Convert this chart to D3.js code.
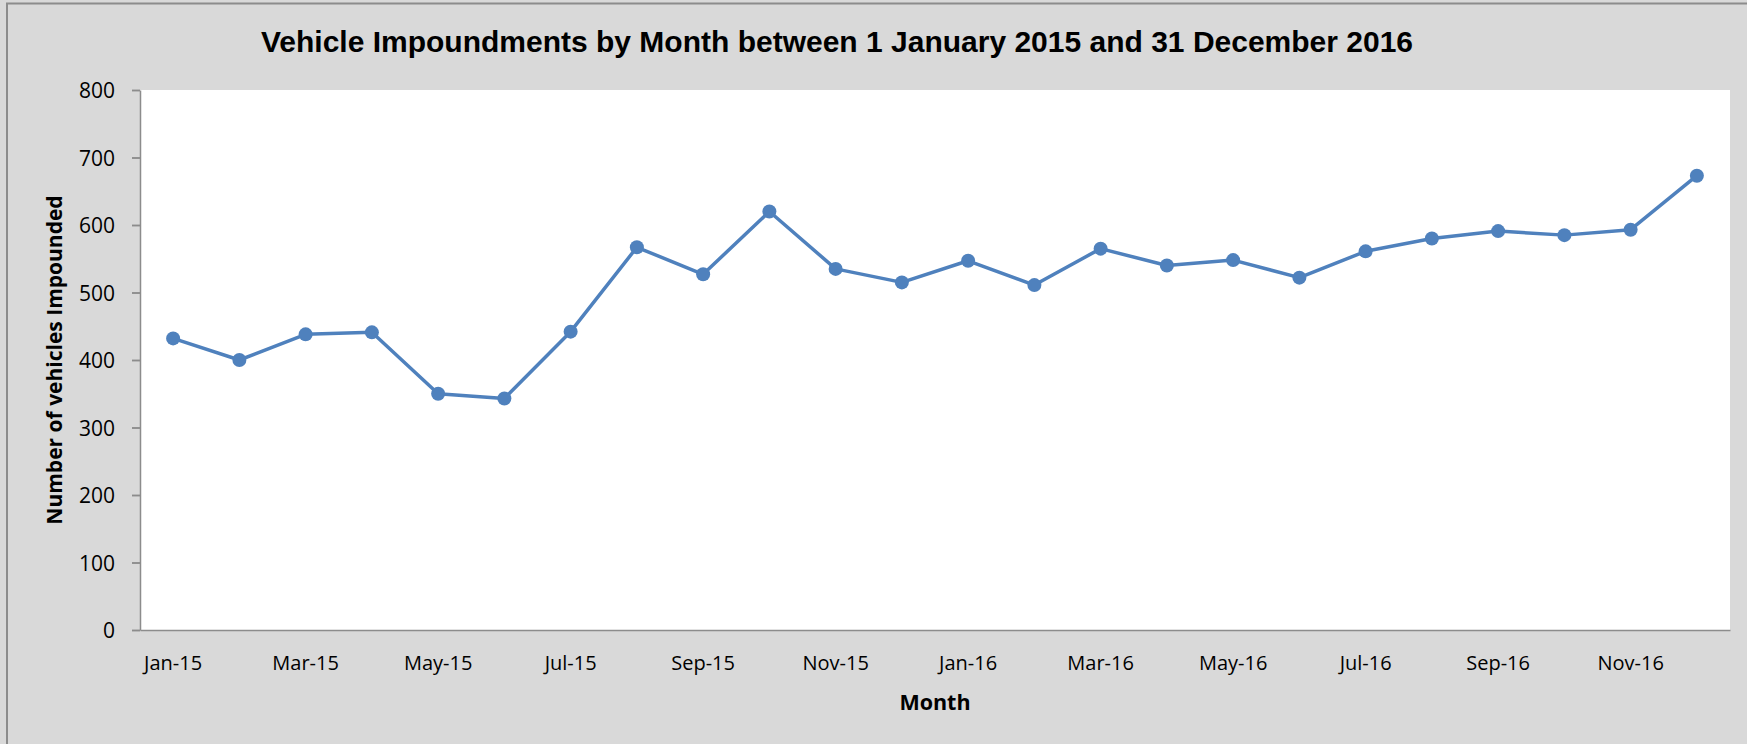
<!DOCTYPE html>
<html>
<head>
<meta charset="utf-8">
<script src="https://cdn.jsdelivr.net/npm/d3@7"></script>
<style>
  body { margin: 0; background: #d9d9d9; overflow: hidden; }
  svg { display: block; }
</style>
</head>
<body>
<script>
// data
var months = ["Jan-15","Feb-15","Mar-15","Apr-15","May-15","Jun-15","Jul-15","Aug-15","Sep-15","Oct-15","Nov-15","Dec-15",
              "Jan-16","Feb-16","Mar-16","Apr-16","May-16","Jun-16","Jul-16","Aug-16","Sep-16","Oct-16","Nov-16","Dec-16"];
var impounded = [432, 400, 438, 441, 350, 343, 442, 567, 527, 620, 535, 515,
                 547, 511, 565, 540, 548, 522, 561, 580, 591, 585, 593, 673];
var yTicks = [0, 100, 200, 300, 400, 500, 600, 700, 800];

var width = 1747, height = 744;
var margin = {top: 90, right: 17, bottom: 114, left: 140};

var svg = d3.select("body")
    .append("svg")
    .attr("width", width)
    .attr("height", height);

// chart area + outer border (right and bottom edges fall outside the picture)
svg.append("rect")
    .attr("x", 7).attr("y", 3.5)
    .attr("width", width + 20).attr("height", height + 20)
    .attr("fill", "#d9d9d9")
    .attr("stroke", "#8c8c8c")
    .attr("stroke-width", 2);

var xscale = d3.scaleBand()
    .domain(months)
    .range([margin.left, width - margin.right])
    .padding(0);

var yscale = d3.scaleLinear()
    .domain([0, 800])
    .range([height - margin.bottom, margin.top]);

// plot background
svg.append("rect")
    .attr("x", margin.left)
    .attr("y", margin.top)
    .attr("width", width - margin.right - margin.left)
    .attr("height", height - margin.bottom - margin.top)
    .attr("fill", "#fff");

// y-axis with gridlines
svg.append("g")
    .attr("transform", `translate(${margin.left},0)`)
    .call(d3.axisLeft(yscale).tickValues(yTicks).tickSizeOuter(0).tickPadding(0))
    .call(g => g.select(".domain").attr("stroke", "#8c8c8c").attr("stroke-width", 1.5))
    .call(g => g.selectAll(".tick line").clone()
        .attr("x2", width - margin.right - margin.left)
        .attr("stroke", "#8c8c8c")
        .attr("stroke-width", 1.5))
    .call(g => g.selectAll(".tick line").attr("x1", 0).attr("x2", -8).attr("stroke", "#8c8c8c").attr("stroke-width", 1.5))
    .call(g => g.selectAll(".tick text")
        .attr("x", -25)
        .attr("dy", "0.36em")
        .attr("font-family", "'Open Sans', sans-serif")
        .attr("font-size", 21)
        .attr("fill", "#000"));

// x-axis, label every second month
svg.append("g")
    .attr("transform", `translate(0,${height - margin.bottom})`)
    .call(d3.axisBottom(xscale)
        .tickValues(months.filter((d, i) => i % 2 == 0))
        .tickSize(0).tickSizeOuter(0).tickPadding(0))
    .call(g => g.select(".domain").attr("stroke", "#8c8c8c").attr("stroke-width", 1.5))
    .call(g => g.selectAll(".tick text")
        .attr("y", 40)
        .attr("dy", 0)
        .attr("font-family", "'Open Sans', sans-serif")
        .attr("font-size", 20)
        .attr("fill", "#000"));

var line = d3.line()
    .x(d => xscale(d.month) + xscale.bandwidth() / 2)
    .y(d => yscale(d.value));

var data = months.map((m, i) => ({month: m, value: impounded[i]}));

svg.append("path")
    .datum(data)
    .attr("fill", "none")
    .attr("stroke", "#4f81bd")
    .attr("stroke-width", 3.5)
    .attr("stroke-linejoin", "round")
    .attr("d", line);

svg.append("g")
    .selectAll("circle")
    .data(data)
    .join("circle")
    .attr("cx", d => xscale(d.month) + xscale.bandwidth() / 2)
    .attr("cy", d => yscale(d.value))
    .attr("r", 7)
    .attr("fill", "#4f81bd");

// titles
svg.append("text")
    .attr("x", 837)
    .attr("y", 52)
    .attr("text-anchor", "middle")
    .attr("font-family", "'Liberation Sans', Arial, sans-serif")
    .attr("font-weight", "bold")
    .attr("font-size", 30)
    .text("Vehicle Impoundments by Month between 1 January 2015 and 31 December 2016");

svg.append("text")
    .attr("x", (margin.left + width - margin.right) / 2)
    .attr("y", 710)
    .attr("text-anchor", "middle")
    .attr("font-family", "'Open Sans', sans-serif")
    .attr("font-weight", "bold")
    .attr("font-size", 21.5)
    .text("Month");

svg.append("text")
    .attr("transform", `translate(62,${(margin.top + height - margin.bottom) / 2}) rotate(-90)`)
    .attr("text-anchor", "middle")
    .attr("font-family", "'Open Sans', sans-serif")
    .attr("font-weight", "bold")
    .attr("font-size", 21)
    .text("Number of vehicles Impounded");
</script>
</body>
</html>
